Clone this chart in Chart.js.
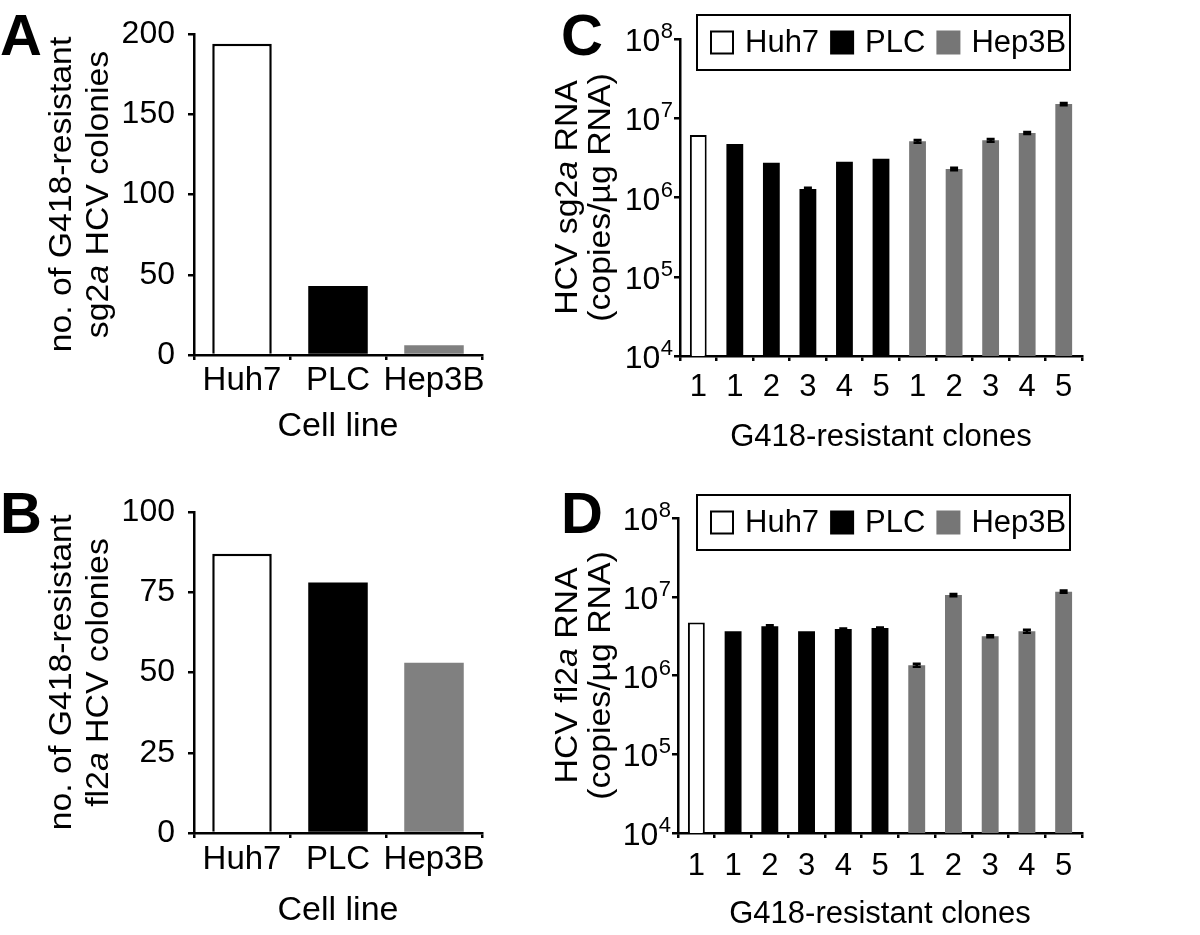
<!DOCTYPE html>
<html>
<head>
<meta charset="utf-8">
<script src="https://cdn.jsdelivr.net/npm/chart.js@4.4.1/dist/chart.umd.min.js"></script>
<style>
  html, body { margin: 0; padding: 0; background: #fff; }
  #fig { position: relative; width: 1200px; height: 935px; overflow: hidden; }
  canvas { position: absolute; }
  .tag { position: absolute; font: bold 58px 'Liberation Sans', Arial, sans-serif; line-height: 58px; }
</style>
</head>
<body>
<div id="fig">
  <canvas id="chartA" width="560" height="467" style="left:0;top:0"></canvas>
  <canvas id="chartB" width="560" height="468" style="left:0;top:467px"></canvas>
  <canvas id="chartC" width="660" height="467" style="left:540px;top:0"></canvas>
  <canvas id="chartD" width="660" height="468" style="left:540px;top:467px"></canvas>
  <div class="tag" style="left:0;top:6px">A</div>
  <div class="tag" style="left:0;top:484px">B</div>
  <div class="tag" style="left:561px;top:6px">C</div>
  <div class="tag" style="left:561px;top:484px">D</div>
</div>
<script>
// colony counts per cell line (panels A, B)
const cellLines = ['Huh7', 'PLC', 'Hep3B'];
const sgColonies = [194, 43, 6];
const flColonies = [87, 78, 53];

// HCV RNA per G418-resistant clone (panels C, D)
const cloneLabels = ['1', '1', '2', '3', '4', '5', '1', '2', '3', '4', '5'];
const cloneLine = ['Huh7', 'PLC', 'PLC', 'PLC', 'PLC', 'PLC', 'Hep3B', 'Hep3B', 'Hep3B', 'Hep3B', 'Hep3B'];
const sgRna = [6.15e6, 4.73e6, 2.75e6, 1.28e6, 2.83e6, 3.09e6, 5.12e6, 2.29e6, 5.27e6, 6.51e6, 1.51e7];
const sgRnaErr = [0, 0, 0, 0.05e6, 0, 0, 0.2e6, 0.08e6, 0.2e6, 0.2e6, 0.5e6];
const flRna = [4.70e6, 3.65e6, 4.23e6, 3.65e6, 3.90e6, 4.02e6, 1.35e6, 1.05e7, 3.15e6, 3.65e6, 1.16e7];
const flRnaErr = [0, 0, 0.12e6, 0, 0.05e6, 0.05e6, 0.06e6, 0.35e6, 0.1e6, 0.15e6, 0.4e6];

const logTicks = [1e4, 1e5, 1e6, 1e7, 1e8];

// axis titles, *x* = italic
const titleA = ['no. of G418-resistant', 'sg2*a* HCV colonies'];
const titleB = ['no. of G418-resistant', 'fl2*a* HCV colonies'];
const titleC = ['HCV sg2*a* RNA', '(copies/µg RNA)'];
const titleD = ['HCV fl2*a* RNA', '(copies/µg RNA)'];

const FONT = "'Liberation Sans', Arial, sans-serif";
const lineColor = { Huh7: '#ffffff', PLC: '#000000', Hep3B: '#808080' };
const lineColorRna = { Huh7: '#ffffff', PLC: '#000000', Hep3B: '#767676' };

Chart.defaults.font.family = FONT;
Chart.defaults.font.size = 31;
Chart.defaults.color = '#000';

// rotated y title, drawn by hand so part of it can be italic
function yTitle(lines, xs) {
  return {
    id: 'yTitle',
    afterDraw(chart) {
      const { ctx, chartArea } = chart;
      const cy = (chartArea.top + chartArea.bottom) / 2;
      lines.forEach((line, i) => {
        const parts = line.split('*');
        const fontOf = k => (k % 2 ? 'italic ' : '') + '31px ' + FONT;
        let total = 0;
        parts.forEach((p, k) => { ctx.font = fontOf(k); total += ctx.measureText(p).width; });
        ctx.save();
        ctx.translate(xs[i], cy);
        ctx.rotate(-Math.PI / 2);
        ctx.scale(1.09, 1);
        ctx.fillStyle = '#000';
        ctx.textBaseline = 'middle';
        let x = -total / 2;
        parts.forEach((p, k) => {
          ctx.font = fontOf(k);
          ctx.fillText(p, x, 0);
          x += ctx.measureText(p).width;
        });
        ctx.restore();
      });
    }
  };
}

// 10^n labels with a real superscript
const logLabels = {
  id: 'logLabels',
  afterDraw(chart) {
    const { ctx, chartArea, scales: { y } } = chart;
    const right = chartArea.left - 7;
    ctx.save();
    ctx.fillStyle = '#000';
    ctx.textBaseline = 'alphabetic';
    logTicks.forEach(v => {
      const py = y.getPixelForValue(v);
      const exp = String(Math.round(Math.log10(v)));
      ctx.font = '22px ' + FONT;
      const ew = ctx.measureText(exp).width;
      ctx.textAlign = 'left';
      ctx.fillText(exp, right - ew, py - 1);
      ctx.font = '32px ' + FONT;
      ctx.textAlign = 'right';
      ctx.fillText('10', right - ew - 0.5, py + 12);
    });
    ctx.restore();
  }
};

const errorBars = {
  id: 'errorBars',
  afterDatasetsDraw(chart) {
    const { ctx, scales: { y } } = chart;
    ctx.save();
    ctx.strokeStyle = '#000';
    ctx.lineWidth = 2.5;
    chart.data.datasets.forEach((ds, di) => {
      if (!ds.errors) return;
      chart.getDatasetMeta(di).data.forEach((bar, i) => {
        const v = ds.data[i], e = ds.errors[i];
        if (v == null || !e) return;
        const top = y.getPixelForValue(v + e);
        const bot = y.getPixelForValue(v - e);
        ctx.beginPath();
        ctx.moveTo(bar.x, top); ctx.lineTo(bar.x, bot);
        ctx.moveTo(bar.x - 4, top); ctx.lineTo(bar.x + 4, top);
        ctx.moveTo(bar.x - 4, bot); ctx.lineTo(bar.x + 4, bot);
        ctx.stroke();
      });
    });
    ctx.restore();
  }
};

// framed legend sitting over the top of the plot
function boxLegend(box) {
  return {
    id: 'boxLegend',
    afterDraw(chart) {
      const { ctx } = chart;
      ctx.save();
      ctx.fillStyle = '#fff';
      ctx.fillRect(box.x, box.y, box.w, box.h);
      ctx.lineWidth = 2;
      ctx.strokeStyle = '#000';
      ctx.strokeRect(box.x, box.y, box.w, box.h);
      ctx.font = '31px ' + FONT;
      ctx.textBaseline = 'middle';
      const cy = box.y + box.h / 2;
      let x = box.x + 13;
      chart.data.datasets.forEach(ds => {
        ctx.fillStyle = ds.backgroundColor;
        ctx.fillRect(x, cy - 12, 24, 24);
        if (ds.borderWidth) {
          ctx.lineWidth = 2;
          ctx.strokeStyle = ds.borderColor;
          ctx.strokeRect(x + 1, cy - 11, 22, 22);
        }
        x += 35;
        ctx.fillStyle = '#000';
        ctx.fillText(ds.label, x, cy + 1);
        x += ctx.measureText(ds.label).width + 11;
      });
      ctx.restore();
    }
  };
}

function axisStyle(tickLength) {
  return {
    grid: { drawOnChartArea: false, color: '#000', lineWidth: 2.5, tickLength: tickLength },
    border: { color: '#000', width: 2.5 },
    z: 1
  };
}

function colonyChart(id, values, yMax, yStep, title, d) {
  return new Chart(document.getElementById(id), {
    type: 'bar',
    data: {
      labels: cellLines,
      datasets: [{
        data: values,
        backgroundColor: cellLines.map(c => lineColor[c]),
        borderColor: '#000',
        borderWidth: cellLines.map(c => c === 'Huh7' ? 2.5 : 0),
        borderSkipped: 'start',
        barPercentage: 0.62,
        categoryPercentage: 1
      }]
    },
    options: {
      responsive: false,
      animation: false,
      layout: { padding: { left: 0, top: d.top, right: d.w - d.right, bottom: 0 } },
      plugins: { legend: { display: false }, tooltip: { enabled: false } },
      scales: {
        x: {
          ...axisStyle(5),
          ticks: { padding: d.tickPadX, maxRotation: 0, minRotation: 0, autoSkip: false, font: { size: 33 } },
          title: { display: true, text: 'Cell line', font: { size: 34 }, padding: { top: 0, bottom: d.titlePad } },
          afterFit(s) { s.height = d.h - d.bottom; }
        },
        y: {
          ...axisStyle(6),
          min: 0, max: yMax,
          ticks: { stepSize: yStep, padding: 13, font: { size: 32 } },
          afterFit(s) { s.width = d.left; }
        }
      }
    },
    plugins: [yTitle(title, [62, 99])]
  });
}

function rnaChart(id, values, errs, title, d) {
  const datasets = cellLines.map(c => ({
    label: c,
    data: values.map((v, i) => cloneLine[i] === c ? v : null),
    errors: errs.map((e, i) => cloneLine[i] === c ? e : null),
    backgroundColor: lineColorRna[c],
    borderColor: '#000',
    borderWidth: c === 'Huh7' ? 2 : 0,
    borderSkipped: 'start',
    grouped: false,
    barPercentage: 0.46,
    categoryPercentage: 1
  }));
  return new Chart(document.getElementById(id), {
    type: 'bar',
    data: { labels: cloneLabels, datasets: datasets },
    options: {
      responsive: false,
      animation: false,
      layout: { padding: { left: 0, top: d.top, right: d.w - d.right, bottom: 0 } },
      plugins: { legend: { display: false }, tooltip: { enabled: false } },
      scales: {
        x: {
          ...axisStyle(5),
          ticks: { padding: d.tickPadX, maxRotation: 0, autoSkip: false },
          title: { display: true, text: 'G418-resistant clones', padding: { top: 0, bottom: d.titlePad } },
          afterFit(s) { s.height = d.h - d.bottom; }
        },
        y: {
          ...axisStyle(6),
          type: 'logarithmic',
          min: logTicks[0], max: logTicks[logTicks.length - 1],
          afterBuildTicks(s) { s.ticks = logTicks.map(v => ({ value: v })); },
          ticks: { display: false },
          afterFit(s) { s.width = d.left; }
        }
      }
    },
    plugins: [errorBars, logLabels, yTitle(title, [28, 61]), boxLegend(d.legend)]
  });
}

colonyChart('chartA', sgColonies, 200, 50, titleA,
  { w: 560, h: 467, left: 194, right: 482, top: 34, bottom: 355, tickPadX: 1, titlePad: 20 });
colonyChart('chartB', flColonies, 100, 25, titleB,
  { w: 560, h: 468, left: 194, right: 482, top: 45, bottom: 366, tickPadX: 2, titlePad: 4 });
rnaChart('chartC', sgRna, sgRnaErr, titleC,
  { w: 660, h: 467, left: 140, right: 542, top: 39, bottom: 356, tickPadX: 8, titlePad: 11,
    legend: { x: 157, y: 15, w: 373, h: 55 } });
rnaChart('chartD', flRna, flRnaErr, titleD,
  { w: 660, h: 468, left: 138, right: 542, top: 51, bottom: 366, tickPadX: 10, titlePad: 2,
    legend: { x: 157, y: 28, w: 373, h: 55 } });
</script>
</body>
</html>
